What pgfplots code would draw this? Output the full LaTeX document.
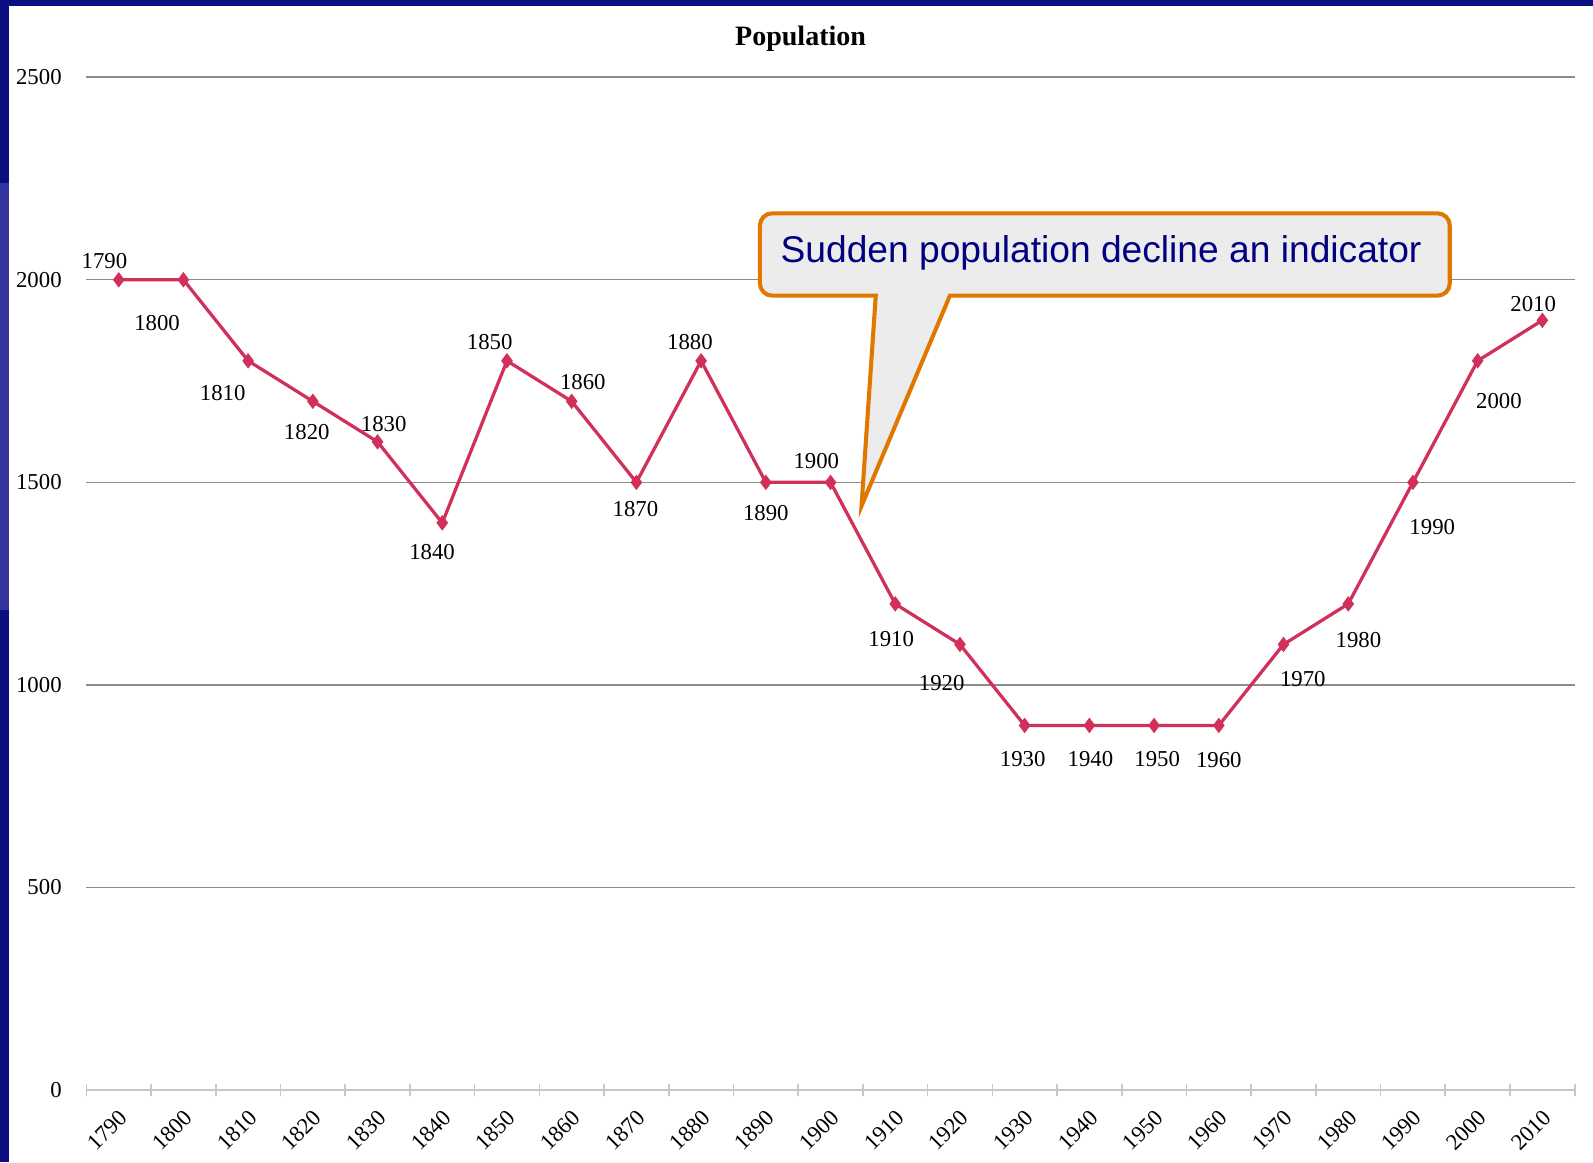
\documentclass[border=0pt]{standalone}
\usepackage{pgfplots}
\pgfplotsset{compat=1.18}
\usepackage{pgfplotstable}
\usepackage{fontspec}
\setmainfont{Liberation Serif}
\newfontfamily\calloutfont{Liberation Sans}
\definecolor{navy}{RGB}{10,14,128}
\definecolor{navylight}{RGB}{52,52,160}
\definecolor{popred}{RGB}{208,48,90}
\definecolor{gridgray}{RGB}{140,140,140}
\definecolor{axisgray}{RGB}{200,200,200}
\definecolor{callfill}{RGB}{236,236,236}
\definecolor{callorange}{RGB}{224,120,0}
\definecolor{calltext}{RGB}{0,0,128}

\pgfplotstableread{
x y yr dx dy
0 2000 1790 -7 9
1 2000 1800 -13 -21.5
2 1800 1810 -12.5 -16
3 1700 1820 -3 -15
4 1600 1830 3 9
5 1400 1840 -5 -14.5
6 1800 1850 -8.5 9
7 1700 1860 5.5 9.5
8 1500 1870 -0.5 -13
9 1800 1880 -5.5 9
10 1500 1890 0 -15
11 1500 1900 -7 10.5
12 1200 1910 -2 -17.5
13 1100 1920 -9 -19
14 900 1930 -1 -16.5
15 900 1940 0.5 -16.5
16 900 1950 1.5 -16.5
17 900 1960 0 -17
18 1100 1970 9.5 -17
19 1200 1980 5 -18
20 1500 1990 9.5 -22
21 1800 2000 10.5 -20
22 1900 2010 -4.5 8
}\popdata

\begin{document}
\begin{tikzpicture}
\path[use as bounding box] (0,0) rectangle (784pt,572pt);
\fill[white] (0,0) rectangle (784pt,572pt);
\fill[navy] (0,0) rectangle (4.5pt,572pt);
\fill[navylight] (0,272pt) rectangle (4.5pt,482pt);
\fill[navy] (0,569pt) rectangle (784pt,572pt);

\begin{axis}[
  at={(42.5pt,35.5pt)}, anchor=south west,
  scale only axis, width=732.5pt, height=498.5pt,
  xmin=-0.5, xmax=22.5, ymin=0, ymax=2500,
  axis lines*=left,
  separate axis lines,
  x axis line style={axisgray, line width=0.8pt, -},
  y axis line style={draw=none},
  xtick={0,...,22},
  xticklabels={1790,1800,1810,1820,1830,1840,1850,1860,1870,1880,1890,1900,1910,1920,1930,1940,1950,1960,1970,1980,1990,2000,2010},
  major x tick style={draw=none},
  minor xtick={-0.5,0.5,...,22.5},
  minor x tick style={axisgray, line width=0.8pt},
  minor tick length=6pt,
  tick align=center,
  ytick={500,1000,1500,2000,2500},
  extra y ticks={0},
  extra y tick style={grid=none},
  major y tick style={draw=none},
  ymajorgrids,
  grid style={gridgray, line width=0.7pt},
  /pgf/number format/assume math mode=true,
  /pgf/number format/1000 sep={},
  yticklabel style={font=\fontsize{11.2}{13}\selectfont, anchor=east, xshift=-6.5pt},
  xticklabel style={font=\fontsize{11.2}{13}\selectfont, anchor=east, inner sep=0pt, xshift=2.5pt, yshift=-9.5pt, rotate=45},
  clip=false,
]
\addplot[popred, line width=1.6pt, mark=diamond*, mark size=2.5pt,
  point meta=explicit symbolic,
  visualization depends on={\thisrow{dx} \as \dx},
  visualization depends on={\thisrow{dy} \as \dy},
  nodes near coords,
  nodes near coords style={black, anchor=center, inner sep=0pt, xshift=\dx pt, yshift=\dy pt, font=\fontsize{11.2}{13}\selectfont},
] table[x=x, y=y, meta=yr] {\popdata};
\end{axis}

\node[font=\fontsize{13.8}{16}\selectfont\bfseries] at (394pt,553pt) {Population};

\draw[callorange, line width=2pt, fill=callfill, line join=miter]
  (424pt,323pt) -- (431pt,426.5pt) [rounded corners=6pt] -- (374pt,426.5pt) -- (374pt,467pt) -- (713.5pt,467pt) -- (713.5pt,426.5pt) [sharp corners] -- (467.5pt,426.5pt) -- cycle;
\node[anchor=base west, inner sep=0pt, text=calltext, font=\calloutfont\fontsize{18.3}{22}\selectfont] at (384pt,443pt) {Sudden population decline an indicator};
\end{tikzpicture}
\end{document}
